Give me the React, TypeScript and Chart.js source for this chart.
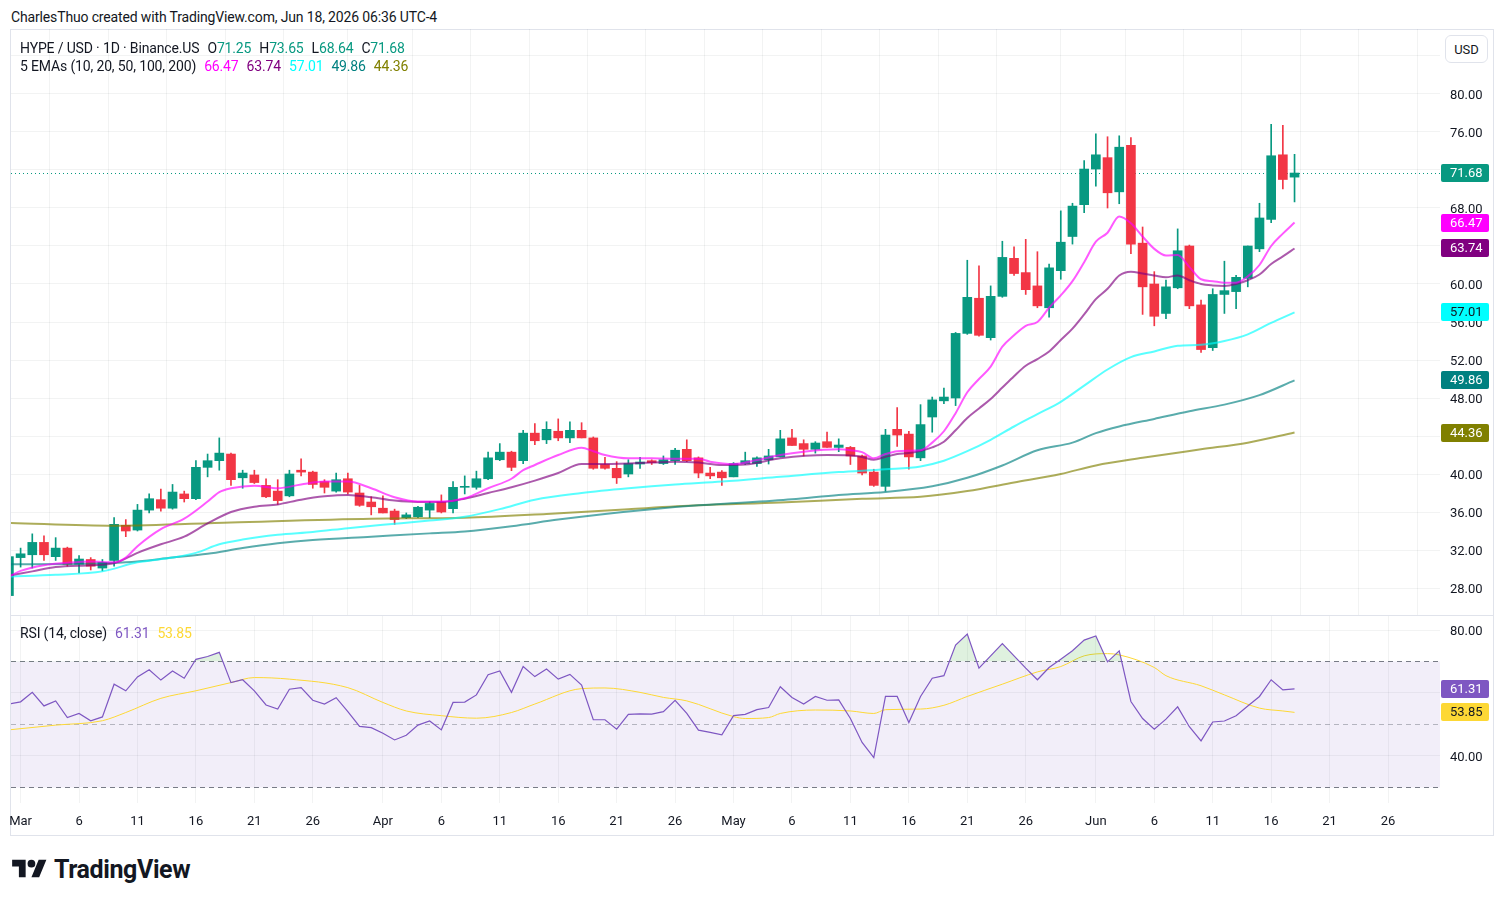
import React, { useEffect, useRef } from 'react';
import { Chart, registerables } from 'chart.js';

Chart.register(...registerables);

// ---------------- data ----------------
// Day index: 0 = Mar 1 2026. Candles run from Feb 28 (-1) to Jun 18 (109).
const firstCandleDay = -1;

const opens = [
  27.2, 31.2, 31.5, 32.8, 31.3, 32.2, 30.5, 31.0, 30.1, 30.9, 34.6,
  34.1, 36.2, 37.3, 36.4, 37.9, 37.4, 40.7, 41.4, 42.1, 39.6,
  39.9, 38.8, 38.2, 37.7, 40.4, 40.2, 39.2, 38.2, 39.5, 38.0,
  37.05, 36.4, 36.1, 35.4, 35.5, 36.2, 37.05, 36.35, 38.6, 38.6,
  39.5, 41.5, 42.3, 41.4, 44.3, 43.6, 44.5, 43.8, 44.6, 43.8,
  41.0, 40.6, 40.0, 41.05, 41.4, 41.1, 41.4, 42.6, 41.7, 40.1,
  40.2, 39.7, 41.1, 41.1, 41.5, 41.8, 43.8, 43.2, 42.6, 43.4,
  42.8, 42.8, 41.9, 40.2, 38.7, 44.7, 44.2, 41.7, 46.0, 47.7,
  48.0, 54.8, 58.5, 54.35, 58.7, 62.7, 61.2, 59.8, 57.5, 61.4,
  65.0, 68.35, 72.1, 73.3, 69.7, 74.6, 64.3, 60.0, 56.9, 59.6,
  64.0, 57.8, 53.3, 58.9, 59.2, 60.6, 63.7, 66.8, 73.6, 71.25,
];
const highs = [
  31.5, 32.2, 33.7, 33.5, 33.3, 32.3, 31.4, 31.2, 31.0, 35.4, 35.2,
  36.8, 37.9, 38.4, 38.9, 38.2, 41.4, 42.1, 43.8, 42.2, 40.4,
  40.4, 39.5, 39.4, 40.4, 41.6, 40.3, 39.4, 40.1, 40.1, 38.8,
  37.6, 37.7, 36.3, 35.9, 36.6, 37.1, 37.8, 39.2, 39.8, 40.3,
  42.3, 43.2, 42.4, 44.6, 45.3, 45.5, 45.8, 45.5, 45.4, 43.9,
  41.75, 41.3, 41.5, 41.75, 41.5, 41.9, 42.7, 43.6, 41.8, 40.7,
  40.35, 41.2, 42.3, 41.8, 42.6, 44.6, 44.7, 43.6, 43.4, 44.4,
  43.7, 42.9, 42.0, 40.5, 44.7, 47.0, 44.5, 47.3, 48.1, 49.05,
  54.9, 62.5, 61.9, 59.8, 64.5, 63.9, 64.7, 63.4, 62.1, 67.7,
  68.5, 73.0, 75.8, 75.5, 75.6, 75.4, 66.0, 61.3, 60.4, 65.8,
  64.1, 58.3, 59.5, 62.4, 60.9, 64.0, 68.5, 76.8, 76.7, 73.65,
];
const lows = [
  26.9, 30.2, 30.1, 30.9, 30.9, 30.3, 29.6, 29.9, 29.8, 30.3, 33.4,
  34.0, 35.9, 36.1, 36.3, 37.05, 37.3, 39.7, 40.4, 38.8, 38.5,
  39.0, 37.5, 36.8, 37.6, 39.8, 38.5, 38.0, 38.1, 37.9, 36.6,
  35.7, 35.9, 34.7, 35.3, 35.4, 35.4, 35.9, 35.9, 37.9, 38.4,
  39.4, 41.4, 40.35, 41.1, 43.1, 43.2, 43.5, 43.3, 43.8, 40.5,
  40.5, 39.0, 39.7, 40.6, 41.0, 41.0, 41.0, 41.3, 39.6, 39.5,
  38.8, 39.7, 41.0, 40.8, 41.05, 41.8, 43.0, 41.9, 42.2, 42.8,
  42.35, 41.0, 39.9, 38.7, 38.2, 42.9, 40.5, 41.4, 44.4, 47.4,
  47.2, 54.7, 54.5, 54.1, 58.6, 60.9, 58.9, 57.5, 56.5, 60.5,
  64.2, 67.5, 70.3, 68.0, 68.45, 63.2, 56.8, 55.6, 56.35, 59.5,
  57.4, 52.8, 53.0, 56.9, 57.4, 59.7, 63.4, 66.45, 70.0, 68.64,
];
const closes = [
  31.3, 31.6, 32.8, 31.5, 32.2, 30.5, 31.05, 30.3, 30.7, 34.7, 34.0,
  36.2, 37.4, 36.4, 38.1, 37.4, 40.7, 41.4, 42.2, 39.4, 40.1,
  39.1, 37.6, 37.2, 40.0, 40.2, 38.9, 38.6, 39.4, 38.1, 36.7,
  36.55, 35.9, 35.2, 35.7, 36.5, 36.9, 36.0, 38.6, 38.7, 39.5,
  41.7, 42.3, 40.7, 44.3, 43.5, 44.7, 43.8, 44.6, 43.8, 40.6,
  40.6, 39.6, 41.1, 41.26, 41.2, 41.5, 42.5, 41.4, 40.1, 39.8,
  39.6, 41.1, 41.4, 41.7, 41.9, 43.7, 43.0, 42.6, 43.26, 42.8,
  43.05, 41.9, 40.1, 38.8, 44.1, 44.1, 41.8, 45.2, 47.8, 48.1,
  54.8, 58.6, 54.6, 58.7, 62.8, 61.1, 59.4, 57.7, 61.7, 64.4,
  68.2, 72.1, 73.6, 69.6, 74.4, 64.2, 59.7, 56.6, 59.7, 63.5,
  57.7, 53.1, 58.9, 59.3, 60.7, 64.0, 66.95, 73.5, 71.0, 71.68,
];

const ema10Days = [
  -1, 0, 2, 4, 6, 8, 9, 10, 12, 14, 16, 17, 18, 20, 22, 24, 26, 28, 30, 32,
  34, 36, 38, 40, 42, 43, 44, 46, 48, 49, 50, 52, 54, 56, 58, 59, 61, 63, 65, 67,
  70, 71, 72, 73, 74, 75, 76, 77, 78, 79, 80, 81, 82, 83, 84, 85, 86, 87, 88, 89,
  90, 91, 92, 93, 94, 95, 96, 97, 98, 99, 100, 101, 102, 103, 104, 105, 106, 107, 108, 109,
];
const ema10Values = [
  29.2, 29.8, 30.4, 30.66, 30.8, 30.7, 31.2, 32.4, 34.2, 35.3, 37.1, 38.1, 38.5, 38.77, 38.5, 38.9, 39.2, 39.2, 38.5, 37.55,
  37.1, 37.1, 37.45, 38.5, 39.5, 40.4, 40.95, 42.0, 42.77, 42.4, 42.0, 41.65, 41.65, 41.6, 41.6, 41.3, 41.05, 41.47, 42.0, 42.35,
  42.6, 42.5, 42.3, 41.65, 42.1, 42.4, 42.45, 42.5, 43.3, 44.5, 46.4, 48.6, 50.0, 51.3, 53.4, 54.6, 55.6, 56.0, 57.5, 58.8,
  60.3, 62.3, 64.45, 65.4, 67.1, 66.4, 65.0, 63.7, 63.0, 63.05, 61.8, 60.5, 60.3, 60.14, 60.14, 60.8, 62.0, 64.0, 65.3, 66.47,
];

const ema20Days = [
  -1, 1, 3, 6, 8, 10, 12, 14, 16, 18, 20, 22, 24, 26, 28, 30, 32, 34, 36, 38,
  40, 42, 44, 46, 48, 50, 54, 56, 58, 60, 62, 65, 69, 71,
  72, 73, 74, 75, 76, 77, 78, 79, 80, 81, 82, 83, 84, 85, 86, 87, 88, 89,
  90, 91, 92, 93, 94, 95, 96, 97, 98, 99, 100, 101, 102, 103, 104, 105, 106, 107, 108, 109,
];
const ema20Values = [
  29.3, 29.75, 30.2, 30.4, 30.6, 31.7, 32.6, 33.4, 34.8, 36.0, 36.56, 36.8, 37.3, 37.65, 37.8, 37.55, 37.2, 37.05, 37.05, 37.4,
  38.0, 38.6, 39.3, 40.1, 41.05, 41.05, 41.2, 41.3, 41.2, 40.95, 41.0, 41.65, 42.0, 41.95,
  41.8, 41.5, 41.8, 42.1, 42.2, 42.45, 42.8, 43.4, 44.6, 45.9, 46.9, 47.9, 49.1, 50.3, 51.4, 52.1, 52.9, 54.1,
  55.3, 56.8, 58.4, 59.5, 60.9, 61.3, 61.1, 60.9, 60.7, 60.9, 60.4, 60.0, 59.85, 59.8, 60.0, 60.4, 61.0, 62.1, 62.9, 63.74,
];

const ema50Days = [
  -1, 3, 7, 10, 13, 15, 17, 19, 22, 25, 28, 31, 35, 38, 41, 44, 48, 52, 56, 60,
  65, 70, 74, 77, 79, 81, 83, 85, 87, 89, 91, 93, 95, 97, 99, 101, 103, 105, 107, 109,
];
const ema50Values = [
  29.2, 29.4, 29.75, 30.7, 31.2, 31.7, 32.6, 33.1, 33.6, 33.9, 34.3, 34.65, 35.1, 35.5, 36.3, 37.3, 38.0, 38.5, 38.9, 39.2,
  39.7, 40.2, 40.5, 40.8, 41.4, 42.4, 43.6, 45.0, 46.3, 47.6, 49.3, 51.0, 52.3, 52.9, 53.5, 53.6, 54.0, 54.7, 55.9, 57.01,
];

const ema100Days = [
  -1, 5, 9, 13, 16, 19, 22, 25, 30, 35, 38, 42, 46, 50, 54, 58, 62, 66, 70, 74,
  78, 81, 84, 87, 90, 92, 94, 97, 100, 103, 106, 109,
];
const ema100Values = [
  30.5, 30.55, 30.7, 31.2, 31.6, 32.2, 32.7, 33.05, 33.4, 33.75, 33.95, 34.5, 35.2, 35.8, 36.3, 36.7, 37.0, 37.35, 37.8, 38.1,
  38.7, 39.6, 40.9, 42.5, 43.3, 44.3, 45.0, 45.8, 46.6, 47.3, 48.3, 49.86,
];

const ema200Days = [-1, 8, 18, 30, 38, 45, 52, 58, 65, 72, 77, 81, 85, 89, 92, 96, 101, 105, 109];
const ema200Values = [34.85, 34.55, 34.9, 35.3, 35.4, 35.8, 36.3, 36.7, 37.0, 37.4, 37.6, 38.2, 39.1, 40.0, 40.9, 41.7, 42.6, 43.3, 44.36];

// RSI(14), one value per candle (Feb 28 .. Jun 18)
const rsiValues = [
  56.5, 57.2, 60.2, 55.9, 57.5, 52.2, 53.5, 51.2, 52.4, 62.8, 60.7,
  65.1, 67.4, 64.1, 67.0, 64.7, 70.7, 71.6, 72.9, 63.3, 64.2,
  60.7, 56.2, 54.9, 61.2, 61.7, 57.7, 56.5, 58.5, 54.1, 49.4,
  49.0, 47.2, 45.1, 46.6, 49.8, 51.1, 48.3, 57.0, 57.1, 59.4,
  65.8, 67.0, 60.2, 68.4, 65.2, 67.6, 64.4, 65.9, 62.5, 51.5,
  51.5, 48.5, 53.2, 53.4, 53.3, 54.1, 57.7, 53.5, 48.2, 47.5,
  46.7, 52.8, 53.2, 54.7, 55.4, 62.0, 58.6, 56.5, 58.9, 57.7,
  57.8, 51.9, 44.3, 39.5, 58.9, 58.9, 50.6, 58.9, 64.7, 65.5,
  75.2, 78.7, 67.9, 71.8, 75.7, 71.8, 67.9, 64.2, 68.1, 70.7,
  73.4, 76.8, 78.1, 69.9, 73.4, 57.3, 51.9, 48.5, 51.7, 55.6,
  49.3, 44.8, 50.8, 51.1, 52.8, 55.9, 58.9, 64.2, 61.0, 61.31,
];
const rsiMaDays = [
  -1, 3, 7, 9, 12, 15, 18, 20, 23, 28, 31, 33, 36, 39, 42, 44, 48, 50, 53, 55,
  57, 61, 62, 64, 65, 68, 71, 73, 74, 77, 79, 81, 84, 87, 89, 91, 93, 94, 97, 98,
  101, 103, 106, 108, 109,
];
const rsiMaValues = [
  48.3, 49.8, 51.2, 53.8, 58.3, 60.7, 63.3, 64.9, 64.4, 61.7, 57.0, 54.3, 52.8, 52.0, 53.8, 56.5, 61.4, 61.6, 60.2, 58.6,
  57.5, 52.5, 51.9, 52.2, 53.5, 54.6, 54.3, 53.5, 54.7, 54.9, 56.1, 58.9, 62.8, 66.7, 68.4, 71.8, 72.5, 72.1, 68.1, 65.5,
  62.3, 59.4, 55.2, 54.3, 53.85,
];

const xTickDays = [0, 5, 10, 15, 20, 25, 31, 36, 41, 46, 51, 56, 61, 66, 71, 76, 81, 86, 92, 97, 102, 107, 112, 117];
const xTickLabels = ['Mar', '6', '11', '16', '21', '26', 'Apr', '6', '11', '16', '21', '26', 'May', '6', '11', '16', '21', '26', 'Jun', '6', '11', '16', '21', '26'];
const priceTicks = [28, 32, 36, 40, 44, 48, 52, 56, 60, 64, 68, 72, 76, 80, 84];
const hiddenPriceTicks = [84];
const rsiTicks = [40, 60, 80];

// ---------------- style ----------------
const UP = '#089981';
const DOWN = '#F23645';
const TEXT = '#131722';
const GRID = 'rgba(42, 46, 57, 0.06)';
const FONT = 'Roboto, "Liberation Sans", Arial, sans-serif';
const EMA_COLORS = ['#FF00FF', '#800080', '#00FFFF', '#008080', '#808000'];
const EMA_LINE = ['rgba(255,0,255,0.65)', 'rgba(128,0,128,0.65)', 'rgba(0,255,255,0.65)', 'rgba(0,128,128,0.65)', 'rgba(128,128,0,0.65)'];
const RSI_COLOR = '#7E57C2';
const RSI_MA_COLOR = '#FDD835';

const X_MIN = -0.8214;
const X_MAX = 121.446;
const PRICE_MIN = 25.158;
const PRICE_MAX = 86.842;
const RSI_MIN = 25.079;
const RSI_MAX = 84.762;

const last = (a: number[]) => a[a.length - 1];
const fmt = (v: number) => v.toFixed(2);

function drawTag(ctx: CanvasRenderingContext2D, area: any, y: number, bg: string, fg: string, text: string) {
  const x = area.right + 1;
  const w = 48;
  const h = 18;
  ctx.save();
  ctx.fillStyle = bg;
  ctx.beginPath();
  const top = Math.round(y - h / 2);
  if ((ctx as any).roundRect) (ctx as any).roundRect(x, top, w, h, 2);
  else ctx.rect(x, top, w, h);
  ctx.fill();
  ctx.fillStyle = fg;
  ctx.font = `13px ${FONT}`;
  ctx.textAlign = 'left';
  ctx.textBaseline = 'middle';
  ctx.fillText(text, area.right + 10, top + h / 2 + 1);
  ctx.restore();
}

const xScale = (showLabels: boolean) => ({
  type: 'linear' as const,
  min: X_MIN,
  max: X_MAX,
  offset: false,
  afterBuildTicks: (s: any) => {
    s.ticks = xTickDays.map((v) => ({ value: v }));
  },
  afterFit: (s: any) => {
    s.height = showLabels ? 32 : 0;
    s.paddingLeft = 0;
    s.paddingRight = 0;
  },
  ticks: {
    display: showLabels,
    autoSkip: false,
    maxRotation: 0,
    padding: 11,
    color: TEXT,
    font: { family: FONT, size: 13 },
    callback: (v: any) => {
      const i = xTickDays.indexOf(Number(v));
      return i >= 0 ? xTickLabels[i] : '';
    },
  },
  grid: { color: GRID, drawTicks: false },
  border: { display: false },
});

export default function App() {
  const mainRef = useRef<HTMLCanvasElement>(null);
  const rsiRef = useRef<HTMLCanvasElement>(null);

  useEffect(() => {
    const candleDays = opens.map((_, i) => firstCandleDay + i);
    const colors = opens.map((o, i) => (closes[i] >= o ? UP : DOWN));
    const emaDays = [ema10Days, ema20Days, ema50Days, ema100Days, ema200Days];
    const emaVals = [ema10Values, ema20Values, ema50Values, ema100Values, ema200Values];

    const mainTags = [
      { v: last(closes), bg: UP, fg: '#ffffff' },
      { v: last(ema10Values), bg: EMA_COLORS[0], fg: '#ffffff' },
      { v: last(ema20Values), bg: EMA_COLORS[1], fg: '#ffffff' },
      { v: last(ema50Values), bg: EMA_COLORS[2], fg: '#131722' },
      { v: last(ema100Values), bg: EMA_COLORS[3], fg: '#ffffff' },
      { v: last(ema200Values), bg: EMA_COLORS[4], fg: '#ffffff' },
    ];

    const mainOverlay = {
      id: 'mainOverlay',
      beforeDatasetsDraw(chart: any) {
        const { ctx, chartArea, scales } = chart;
        const y = Math.round(scales.y.getPixelForValue(last(closes))) + 0.5;
        ctx.save();
        ctx.strokeStyle = UP;
        ctx.lineWidth = 1;
        ctx.setLineDash([1, 3]);
        ctx.beginPath();
        ctx.moveTo(chartArea.left, y);
        ctx.lineTo(chartArea.right, y);
        ctx.stroke();
        ctx.restore();
      },
      afterDraw(chart: any) {
        const { ctx, chartArea, scales } = chart;
        mainTags.forEach((t) => drawTag(ctx, chartArea, scales.y.getPixelForValue(t.v), t.bg, t.fg, fmt(t.v)));
      },
    };

    const main = new Chart(mainRef.current as HTMLCanvasElement, {
      type: 'bar',
      data: {
        datasets: [
          ...emaDays.map((days, k) => ({
            type: 'line' as const,
            data: days.map((d, i) => ({ x: d, y: emaVals[k][i] })),
            borderColor: EMA_LINE[k],
            borderWidth: 2,
            pointRadius: 0,
            cubicInterpolationMode: 'monotone' as const,
            order: 1 + k,
          })),
          {
            type: 'bar' as const,
            data: candleDays.map((d, i) => ({ x: d, y: [lows[i], highs[i]] })),
            backgroundColor: colors,
            barThickness: 1,
            grouped: false,
            order: 20,
          },
          {
            type: 'bar' as const,
            data: candleDays.map((d, i) => ({ x: d, y: [Math.min(opens[i], closes[i]), Math.max(opens[i], closes[i])] })),
            backgroundColor: colors,
            barThickness: 9,
            grouped: false,
            order: 19,
          },
        ] as any,
      },
      options: {
        animation: false,
        responsive: false,
        maintainAspectRatio: false,
        layout: { padding: { left: 11, right: 12, top: 0, bottom: 0 } },
        plugins: { legend: { display: false }, tooltip: { enabled: false } },
        scales: {
          x: xScale(false) as any,
          y: {
            position: 'right',
            min: PRICE_MIN,
            max: PRICE_MAX,
            afterBuildTicks: (s: any) => {
              s.ticks = priceTicks.map((v) => ({ value: v }));
            },
            afterFit: (s: any) => {
              s.width = 53;
              s.paddingTop = 0;
              s.paddingBottom = 0;
            },
            ticks: {
              padding: 10,
              labelOffset: 1.5,
              color: TEXT,
              font: { family: FONT, size: 13 },
              callback: (v: any) => (hiddenPriceTicks.includes(Number(v)) ? '' : Number(v).toFixed(2)),
            },
            grid: { color: GRID, drawTicks: false },
            border: { display: false },
          },
        },
      },
      plugins: [mainOverlay],
    });

    const rsiTags = [
      { v: last(rsiValues), bg: RSI_COLOR, fg: '#ffffff' },
      { v: last(rsiMaValues), bg: RSI_MA_COLOR, fg: '#131722' },
    ];
    const rsiOverlay = {
      id: 'rsiOverlay',
      beforeDatasetsDraw(chart: any) {
        const { ctx, chartArea: a, scales } = chart;
        const y = scales.y;
        const y70 = y.getPixelForValue(70);
        const y30 = y.getPixelForValue(30);
        ctx.save();
        ctx.fillStyle = 'rgba(126, 87, 194, 0.1)';
        ctx.fillRect(a.left, y70, a.right - a.left, y30 - y70);
        ctx.lineWidth = 1;
        ctx.setLineDash([5, 4]);
        const lines: [number, string][] = [
          [70, '#787B86'],
          [50, 'rgba(120, 123, 134, 0.5)'],
          [30, '#787B86'],
        ];
        lines.forEach(([v, c]) => {
          const py = Math.round(y.getPixelForValue(v)) + 0.5;
          ctx.strokeStyle = c;
          ctx.beginPath();
          ctx.moveTo(a.left, py);
          ctx.lineTo(a.right, py);
          ctx.stroke();
        });
        ctx.restore();
      },
      afterDraw(chart: any) {
        const { ctx, chartArea, scales } = chart;
        rsiTags.forEach((t) => drawTag(ctx, chartArea, scales.y.getPixelForValue(t.v), t.bg, t.fg, fmt(t.v)));
      },
    };

    const rsi = new Chart(rsiRef.current as HTMLCanvasElement, {
      type: 'line',
      data: {
        datasets: [
          {
            data: rsiMaDays.map((d, i) => ({ x: d, y: rsiMaValues[i] })),
            borderColor: RSI_MA_COLOR,
            borderWidth: 1,
            pointRadius: 0,
            cubicInterpolationMode: 'monotone',
            order: 2,
          },
          {
            data: rsiValues.map((v, i) => ({ x: firstCandleDay + i, y: v })),
            borderColor: RSI_COLOR,
            borderWidth: 1.2,
            pointRadius: 0,
            tension: 0,
            fill: { value: 70, above: 'rgba(76, 175, 80, 0.18)', below: 'rgba(0,0,0,0)' },
            order: 1,
          },
        ] as any,
      },
      options: {
        animation: false,
        responsive: false,
        maintainAspectRatio: false,
        layout: { padding: { left: 11, right: 12, top: 0, bottom: 0 } },
        plugins: { legend: { display: false }, tooltip: { enabled: false } },
        scales: {
          x: xScale(true) as any,
          y: {
            position: 'right',
            min: RSI_MIN,
            max: RSI_MAX,
            afterBuildTicks: (s: any) => {
              s.ticks = rsiTicks.map((v) => ({ value: v }));
            },
            afterFit: (s: any) => {
              s.width = 53;
              s.paddingTop = 0;
              s.paddingBottom = 0;
            },
            ticks: {
              padding: 10,
              labelOffset: 1.5,
              color: TEXT,
              font: { family: FONT, size: 13 },
              callback: (v: any) => Number(v).toFixed(2),
            },
            grid: { color: GRID, drawTicks: false },
            border: { display: false },
          },
        },
      },
      plugins: [rsiOverlay],
    });

    return () => {
      main.destroy();
      rsi.destroy();
    };
  }, []);

  const legend: React.CSSProperties = {
    position: 'absolute',
    fontFamily: FONT,
    fontSize: 14,
    lineHeight: '18px',
    color: TEXT,
    whiteSpace: 'nowrap',
    letterSpacing: '-0.15px',
  };
  const o = last(opens), h = last(highs), l = last(lows), c = last(closes);
  const ohlcColor = c >= o ? UP : DOWN;
  const emaLast = [last(ema10Values), last(ema20Values), last(ema50Values), last(ema100Values), last(ema200Values)];

  return (
    <div style={{ position: 'absolute', left: 0, top: 0, width: 1505, height: 904, background: '#ffffff', overflow: 'hidden', fontFamily: FONT }}>
      <div style={{ ...legend, left: 11, top: 8 }}>CharlesThuo created with TradingView.com, Jun 18, 2026 06:36 UTC-4</div>
      <div style={{ position: 'absolute', left: 10, top: 29, width: 1484, height: 807, border: '1px solid #e0e3eb', boxSizing: 'border-box' }} />
      <canvas ref={mainRef} width={1505} height={586} style={{ position: 'absolute', left: 0, top: 29, display: 'block' }} />
      <canvas ref={rsiRef} width={1505} height={220} style={{ position: 'absolute', left: 0, top: 615, display: 'block' }} />
      <div style={{ position: 'absolute', left: 10, top: 615, width: 1484, height: 1, background: '#e0e3eb' }} />

      <div style={{ ...legend, left: 20, top: 39 }}>
        HYPE / USD · 1D · Binance.US
        <span style={{ marginLeft: 8 }}>O<span style={{ color: ohlcColor }}>{fmt(o)}</span></span>
        <span style={{ marginLeft: 8 }}>H<span style={{ color: ohlcColor }}>{fmt(h)}</span></span>
        <span style={{ marginLeft: 8 }}>L<span style={{ color: ohlcColor }}>{fmt(l)}</span></span>
        <span style={{ marginLeft: 8 }}>C<span style={{ color: ohlcColor }}>{fmt(c)}</span></span>
      </div>
      <div style={{ ...legend, left: 20, top: 57 }}>
        5 EMAs (10, 20, 50, 100, 200)
        {emaLast.map((v, i) => (
          <span key={i} style={{ marginLeft: 8, color: EMA_COLORS[i] }}>{fmt(v)}</span>
        ))}
      </div>
      <div style={{ ...legend, left: 20, top: 624 }}>
        RSI (14, close)
        <span style={{ marginLeft: 8, color: RSI_COLOR }}>{fmt(last(rsiValues))}</span>
        <span style={{ marginLeft: 8, color: RSI_MA_COLOR }}>{fmt(last(rsiMaValues))}</span>
      </div>

      <div style={{ position: 'absolute', left: 1445, top: 35, width: 43, height: 28, border: '1px solid #e0e3eb', borderRadius: 6, boxSizing: 'border-box', display: 'flex', alignItems: 'center', justifyContent: 'center', fontSize: 13, color: TEXT, background: '#fff' }}>USD</div>

      <div style={{ position: 'absolute', left: 12, top: 855, display: 'flex', alignItems: 'center' }}>
        <svg width="35" height="27" viewBox="0 0 36 28" style={{ display: 'block' }}>
          <path d="M14 22H7V11H0V4h14v18zM28 22h-8l7.5-18h8L28 22z" fill="#131722" />
          <circle cx="20" cy="8" r="4" fill="#131722" />
        </svg>
        <span style={{ marginLeft: 7, fontSize: 25, fontWeight: 700, color: TEXT, letterSpacing: '-0.4px', fontFamily: FONT }}>TradingView</span>
      </div>
    </div>
  );
}
